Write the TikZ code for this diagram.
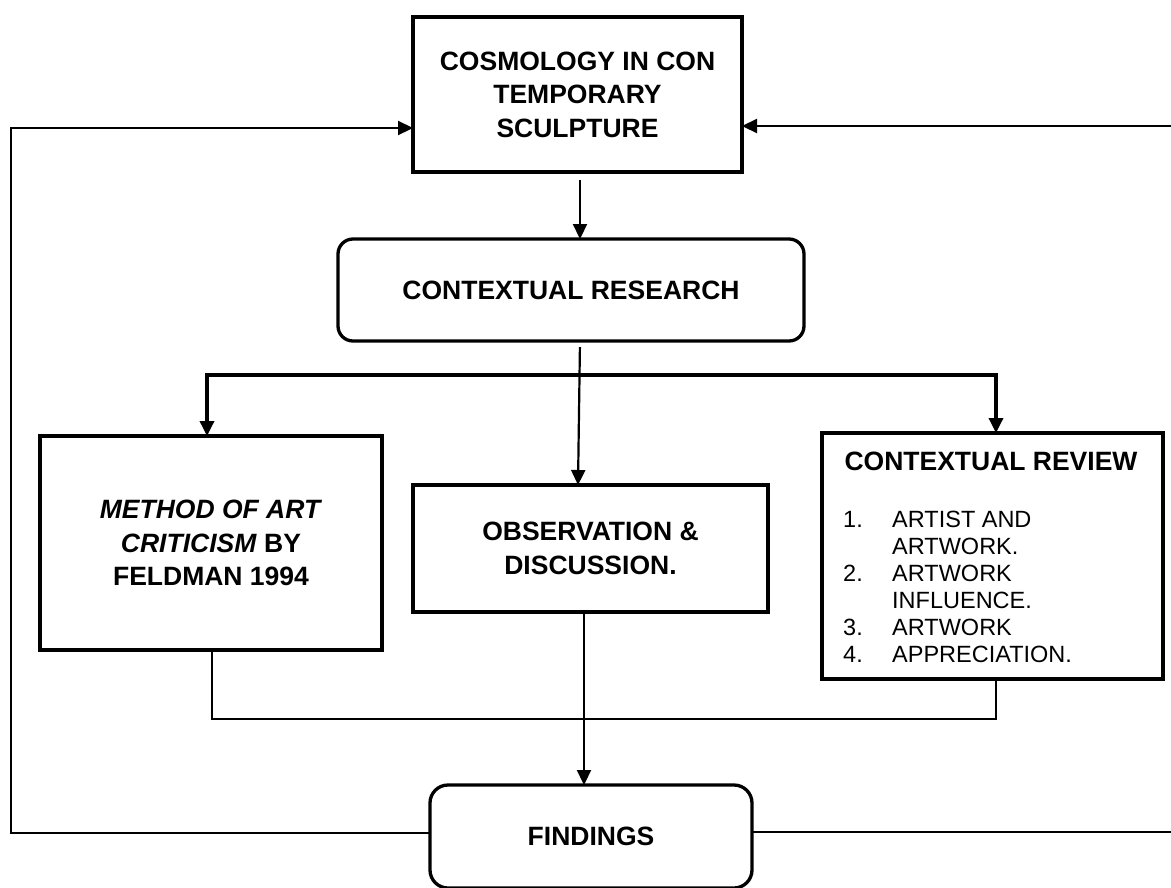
\documentclass[tikz,border=0pt]{standalone}
\usepackage{fontspec}
\setmainfont{Liberation Sans}
\usetikzlibrary{arrows.meta}
\begin{document}
\begin{tikzpicture}[x=1pt,y=-1pt,
  box/.style={draw,line width=3.3pt,inner sep=0pt,outer sep=0pt,align=center,
    font=\bfseries\fontsize{26.5}{33.5}\selectfont},
  rbox/.style={box,rounded corners=15pt},
  conn/.style={line width=2.2pt},
  thick conn/.style={line width=3.4pt},
  tip/.style={-{Triangle[length=15pt,width=14pt]}},
  arr/.style={conn,tip},
  thick arr/.style={thick conn,tip}
]
\useasboundingbox (0,0) rectangle (1171,887);
\clip (0,0) rectangle (1171,887);
\fill[white] (0,0) rectangle (1171,887);

% nodes
\node[box,minimum width=329pt,minimum height=155pt] (top) at (577.5,94.5)
  {COSMOLOGY IN CON\\TEMPORARY\\SCULPTURE};
\node[rbox,minimum width=466pt,minimum height=102pt] (cr) at (571,290)
  {CONTEXTUAL RESEARCH};
\node[box,minimum width=342pt,minimum height=214pt] (meth) at (211,543)
  {\textit{METHOD OF ART}\\\textit{CRITICISM} BY\\FELDMAN 1994};
\node[box,minimum width=355pt,minimum height=127pt] (obs) at (590.5,548.5)
  {OBSERVATION \&\\DISCUSSION.};
\node[box,minimum width=341pt,minimum height=246pt] (rev) at (992.5,556) {};
\node[anchor=base,inner sep=0pt,font=\bfseries\fontsize{26.5}{33.5}\selectfont] (revt) at (991,470)
  {CONTEXTUAL REVIEW};
\node[anchor=base west,inner sep=0pt,font=\fontsize{23.5}{27}\selectfont] (revl) at (843,527)
  {\begin{tabular}[t]{@{}p{49pt}@{}l@{}}
   1. & ARTIST AND\\
      & ARTWORK.\\
   2. & ARTWORK\\
      & INFLUENCE.\\
   3. & ARTWORK\\
   4. & APPRECIATION.
   \end{tabular}};
\node[rbox,rounded corners=18pt,minimum width=322pt,minimum height=103pt] (find) at (591,836.5)
  {FINDINGS};

% coordinates
\coordinate (br) at (578,375);
\coordinate (mg) at (584,719);
\coordinate (fl) at (11,833);
\coordinate (tl) at (11,128);
\coordinate (fr) at (1190,832);
\coordinate (tr) at (1190,126);

% connectors
\draw[arr,shorten <=8pt] ([xshift=2.5pt]top.south) -- ([xshift=2.5pt]top.south |- cr.north);
\draw[arr,shorten <=6pt] ([xshift=9pt]cr.south) -- ([xshift=-12.5pt]obs.north);
\draw[thick arr] (br) -| ([xshift=-4pt]meth.north);
\draw[thick arr] (br) -| ([xshift=3.5pt]rev.north);
\draw[conn] ([xshift=1pt]meth.south) |- (mg) -| ([xshift=3.5pt]rev.south);
\draw[arr] ([xshift=-6.5pt]obs.south) -- ([xshift=-6.5pt]obs.south |- find.north);
\draw[arr] ([yshift=3.5pt]find.west) -- (fl) -- (tl) -- ([yshift=-33.5pt]top.west);
\draw[arr] ([yshift=4.5pt]find.east) -- (fr) -- (tr) -- ([yshift=-31.5pt]top.east);
\end{tikzpicture}
\end{document}
